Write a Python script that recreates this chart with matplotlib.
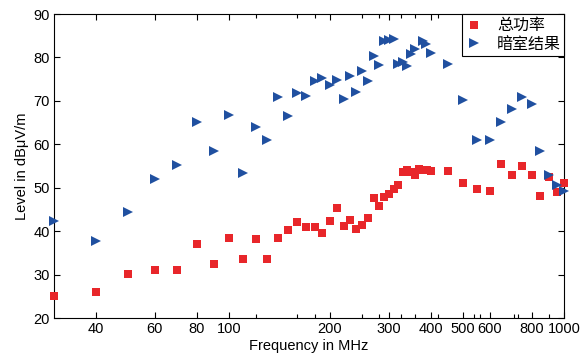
import numpy as np
import matplotlib.pyplot as plt
from matplotlib.ticker import FixedLocator, NullFormatter

plt.rcParams['font.family'] = ['Liberation Sans', 'Noto Sans CJK SC', 'DejaVu Sans']

# red squares: total power
freq_red = [30, 40, 50, 60, 70, 80, 90, 100, 110, 120, 130, 140, 150, 160, 170, 180, 190,
            200, 210, 220, 230, 240, 250, 260, 270, 280, 290, 300, 310, 320, 330, 340,
            350, 360, 370, 380, 390, 400, 450, 500, 550, 600, 650, 700, 750, 800, 850,
            900, 950, 1000]
level_red = [25.1, 26.0, 30.1, 31.1, 31.1, 37.0, 32.4, 38.4, 33.7, 38.1, 33.5, 38.4, 40.2,
             42.2, 40.9, 40.9, 39.5, 42.3, 45.3, 41.1, 42.6, 40.6, 41.3, 43.0, 47.6, 45.9,
             47.8, 48.6, 49.8, 50.6, 53.7, 54.0, 53.6, 53.0, 54.2, 54.1, 54.0, 53.8, 53.8,
             51.0, 49.6, 49.2, 55.4, 52.9, 55.0, 52.9, 48.0, 52.4, 48.9, 51.2]

# blue triangles: anechoic chamber
freq_blue = [30, 40, 50, 60, 70, 80, 90, 100, 110, 120, 130, 140, 150, 160, 170, 180, 190,
             200, 210, 220, 230, 240, 250, 260, 270, 280, 290, 300, 310, 320, 330, 340,
             350, 360, 378, 388, 400, 450, 500, 550, 600, 650, 700, 750, 800, 850, 900,
             950, 1000]
level_blue = [42.3, 37.7, 44.4, 51.9, 55.2, 65.1, 58.5, 66.7, 53.3, 63.9, 61.1, 70.8, 66.5,
              71.7, 71.2, 74.6, 75.3, 73.7, 74.7, 70.4, 75.7, 72.0, 76.9, 74.5, 80.3, 78.2,
              83.8, 84.0, 84.2, 78.4, 78.9, 78.1, 80.7, 81.9, 83.8, 83.0, 81.0, 78.6, 70.2,
              60.9, 61.1, 65.1, 68.1, 70.8, 69.2, 58.4, 53.0, 50.6, 49.2]

x_major = [40, 60, 80, 100, 200, 300, 400, 500, 600, 800, 1000]
x_minor = [120, 160, 180, 250, 280, 325, 360, 420, 540, 560, 710, 730, 900]

fig = plt.figure(figsize=(5.85, 3.59), dpi=100)
ax = fig.add_axes([0.0923, 0.1142, 0.8718, 0.8468])

ax.plot(freq_red, level_red, 's', color='#e8262a', markersize=6, markeredgewidth=0,
        clip_on=False, label='总功率', zorder=3)
ax.plot(freq_blue, level_blue, '>', color='#2050a0', markersize=7.5, markeredgewidth=0,
        clip_on=False, label='暗室结果', zorder=3)

ax.set_xscale('log')
ax.set_xlim(30, 1000)
ax.set_ylim(20, 90)
ax.xaxis.set_major_locator(FixedLocator(x_major))
ax.xaxis.set_minor_locator(FixedLocator(x_minor))
ax.xaxis.set_minor_formatter(NullFormatter())
ax.set_xticklabels([str(v) for v in x_major])
ax.set_yticks(np.arange(20, 91, 10))

ax.tick_params(which='both', direction='in', top=True, right=True, labelsize=10.5,
               width=0.8, pad=3)
ax.tick_params(which='major', length=4)
ax.tick_params(which='minor', length=3)
for s in ax.spines.values():
    s.set_linewidth(0.8)

ax.set_xlabel('Frequency in MHz', fontsize=10.5, labelpad=2)
ax.set_ylabel('Level in dBμV/m', fontsize=10.5, labelpad=3)

leg = ax.legend(loc='upper right', borderaxespad=0, fancybox=False, framealpha=1,
                edgecolor='black', prop={'family': ['Noto Sans CJK SC'], 'size': 11.5},
                handlelength=1.2, handletextpad=0.8, borderpad=0.2, labelspacing=0.1)
leg.get_frame().set_linewidth(0.8)

fig.savefig('out.png', dpi=100)
